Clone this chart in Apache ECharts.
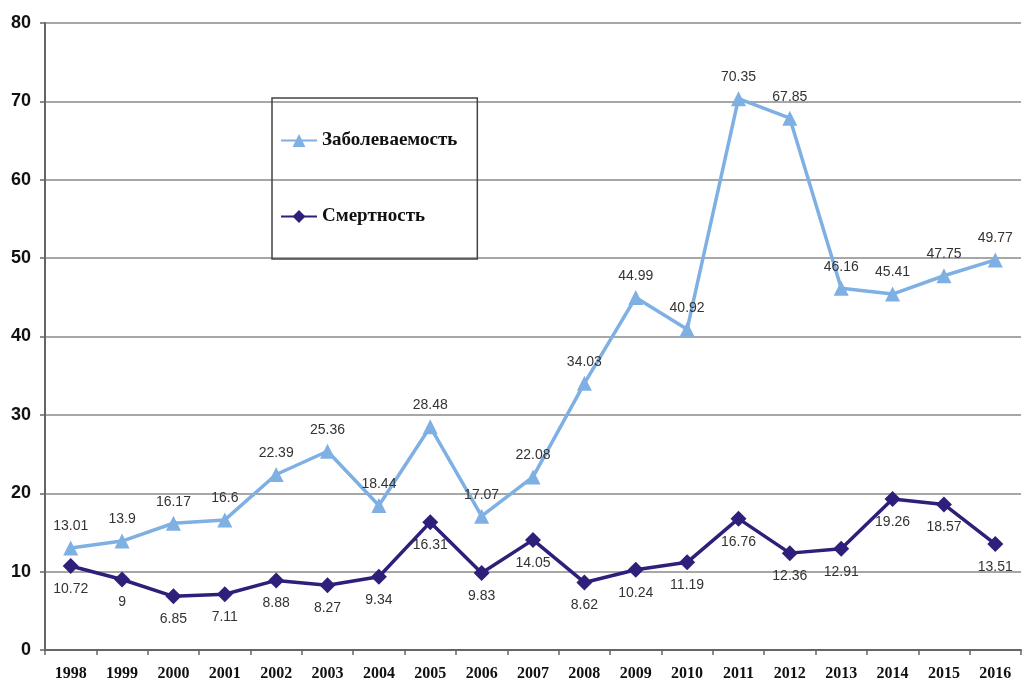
<!DOCTYPE html>
<html><head><meta charset="utf-8">
<script src="https://cdn.jsdelivr.net/npm/echarts@6/dist/echarts.min.js"></script>
<style>html,body{margin:0;padding:0;background:#fff}#c{width:1025px;height:688px}</style>
</head><body><div id="c"></div>
<script>
var years = ['1998','1999','2000','2001','2002','2003','2004','2005','2006','2007','2008','2009','2010','2011','2012','2013','2014','2015','2016'];
var morbidity = [13.01, 13.9, 16.17, 16.6, 22.39, 25.36, 18.44, 28.48, 17.07, 22.08, 34.03, 44.99, 40.92, 70.35, 67.85, 46.16, 45.41, 47.75, 49.77];
var mortality = [10.72, 9, 6.85, 7.11, 8.88, 8.27, 9.34, 16.31, 9.83, 14.05, 8.62, 10.24, 11.19, 16.76, 12.36, 12.91, 19.26, 18.57, 13.51];
var seriesNames = ['Заболеваемость', 'Смертность'];

var chart = echarts.init(document.getElementById('c'));
chart.setOption({
  animation: false,
  backgroundColor: '#fff',
  grid: {left: 45, right: 4, top: 23, bottom: 38, containLabel: false},
  legend: {
    orient: 'vertical', left: 272, top: 98,
    padding: [33, 20, 33, 8], itemGap: 57,
    itemWidth: 36, itemHeight: 16,
    borderColor: '#444', borderWidth: 1.5,
    textStyle: {fontFamily: 'Liberation Serif', fontWeight: 'bold', fontSize: 19, color: '#111'},
    data: seriesNames
  },
  xAxis: {
    type: 'category', data: years, boundaryGap: true,
    axisLine: {lineStyle: {color: '#666', width: 2}},
    axisTick: {show: true, length: 5, lineStyle: {color: '#666', width: 1.5}},
    axisLabel: {fontFamily: 'Liberation Serif', fontWeight: 'bold', fontSize: 16, color: '#111', margin: 16}
  },
  yAxis: {
    type: 'value', min: 0, max: 80, interval: 10,
    axisLine: {show: true, lineStyle: {color: '#666', width: 2}},
    axisTick: {show: true, length: 5, lineStyle: {color: '#666', width: 1.5}},
    splitLine: {lineStyle: {color: '#8a8a8a', width: 1.5}},
    axisLabel: {fontFamily: 'Liberation Sans', fontWeight: 'bold', fontSize: 18, color: '#111', margin: 14}
  },
  series: [
    {
      name: seriesNames[0], type: 'line', data: morbidity,
      symbol: 'triangle', symbolSize: 15,
      lineStyle: {color: '#7eb0e3', width: 3.5},
      itemStyle: {color: '#7eb0e3'},
      label: {show: true, position: 'top', distance: 7, fontFamily: 'Liberation Sans', fontSize: 14, color: '#333',
        formatter: function(p){return String(p.value);}}
    },
    {
      name: seriesNames[1], type: 'line', data: mortality,
      symbol: 'diamond', symbolSize: 16,
      lineStyle: {color: '#2e1f7a', width: 3.5},
      itemStyle: {color: '#2e1f7a'},
      label: {show: true, position: 'bottom', distance: 8, fontFamily: 'Liberation Sans', fontSize: 14, color: '#333',
        formatter: function(p){return String(p.value);}}
    }
  ]
});
</script></body></html>
